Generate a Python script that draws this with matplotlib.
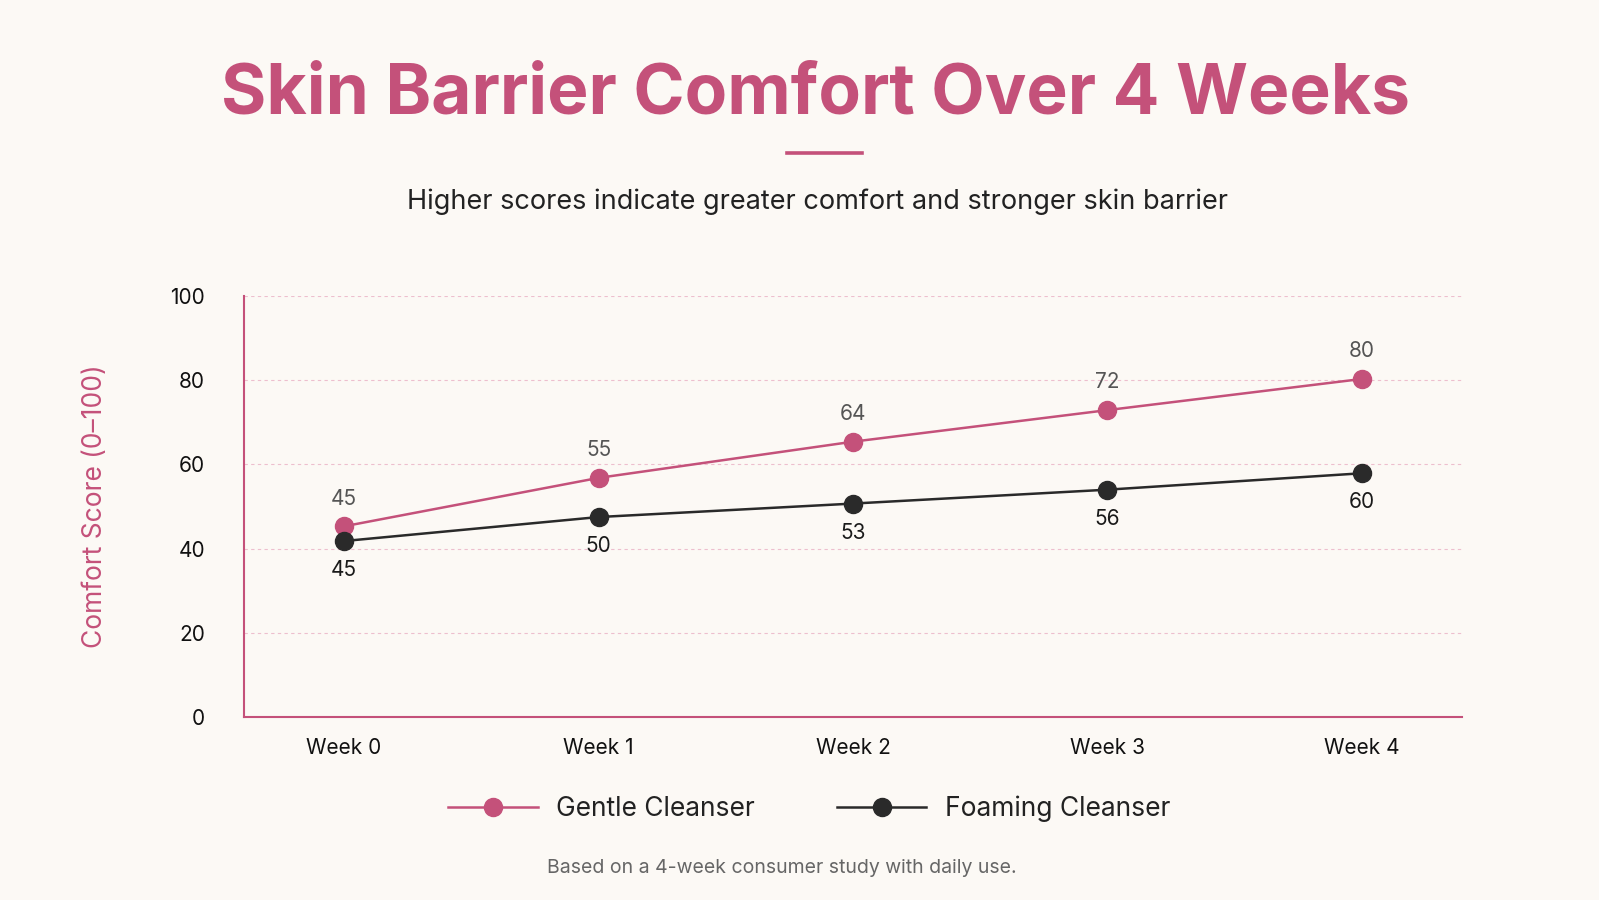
import numpy as np
import matplotlib.pyplot as plt
from matplotlib.lines import Line2D

weeks = ['Week 0', 'Week 1', 'Week 2', 'Week 3', 'Week 4']
# plotted positions
gentle = [45.3, 56.8, 65.4, 72.9, 80.3]
foaming = [41.8, 47.5, 50.7, 54.0, 57.9]
# printed value labels
gentle_labels = ['45', '55', '64', '72', '80']
foaming_labels = ['45', '50', '53', '56', '60']
y_ticks = [0, 20, 40, 60, 80, 100]

pink = '#C4517A'
dark = '#2A2A2A'
bg = '#FCF9F5'

plt.rcParams['font.family'] = ['Inter', 'DejaVu Sans']

fig = plt.figure(figsize=(15.99, 9), dpi=100, facecolor=bg)
ax = fig.add_axes([0.1526, 0.2033, 0.7617, 0.4678])
ax.set_facecolor(bg)

x = np.arange(len(weeks))
ax.plot(x, gentle, color=pink, lw=1.8, marker='o', ms=13, zorder=3)
ax.plot(x, foaming, color=dark, lw=1.8, marker='o', ms=13, zorder=3)

for xi, yi, t in zip(x, gentle, gentle_labels):
    ax.annotate(t, (xi, yi), xytext=(0, 20), textcoords='offset points',
                ha='center', va='center', fontsize=15, color='#555555')
for xi, yi, t in zip(x, foaming, foaming_labels):
    ax.annotate(t, (xi, yi), xytext=(0, -21), textcoords='offset points',
                ha='center', va='center', fontsize=15, color='#1A1A1A')

ax.set_xlim(-0.393, 4.393)
ax.set_ylim(0, 100)
ax.set_xticks(x)
ax.set_xticklabels(weeks)
ax.set_yticks(y_ticks)
ax.tick_params(axis='both', length=0, labelsize=15, colors='#111111')
ax.tick_params(axis='y', pad=28)
ax.tick_params(axis='x', pad=15)

for s in ['top', 'right']:
    ax.spines[s].set_visible(False)
for s in ['left', 'bottom']:
    ax.spines[s].set_color(pink)
    ax.spines[s].set_linewidth(1.5)

ax.yaxis.grid(True, color='#EDBFCE', linestyle=(0, (3, 3)), lw=0.8)
ax.set_axisbelow(True)

ax.set_ylabel('Comfort Score (0–100)', fontsize=19, color=pink)
ax.yaxis.set_label_coords(-0.112, 0.5)

fig.text(0.51, 1 - 113 / 900, 'Skin Barrier Comfort Over 4 Weeks', ha='center',
         va='baseline', fontsize=50, fontweight='bold', color=pink)
fig.add_artist(Line2D([787 / 1599, 862 / 1599], [1 - 153 / 900] * 2,
                      color=pink, lw=2.6))
fig.text(0.511, 1 - 209 / 900,
         'Higher scores indicate greater comfort and stronger skin barrier',
         ha='center', va='baseline', fontsize=19.5, color='#222222')

handles = [Line2D([], [], color=pink, lw=1.8, marker='o', ms=13),
           Line2D([], [], color=dark, lw=1.8, marker='o', ms=13)]
fig.legend(handles, ['Gentle Cleanser', 'Foaming Cleanser'], loc='center',
           bbox_to_anchor=(0.506, 1 - 809 / 900), ncol=2, frameon=False,
           fontsize=19, handlelength=3.4, handletextpad=0.7,
           columnspacing=3.1, labelcolor='#222222')

fig.text(0.489, 1 - 868 / 900,
         'Based on a 4-week consumer study with daily use.',
         ha='center', va='center', fontsize=14, color='#666666')

plt.savefig('out.png', dpi=100, facecolor=bg)
